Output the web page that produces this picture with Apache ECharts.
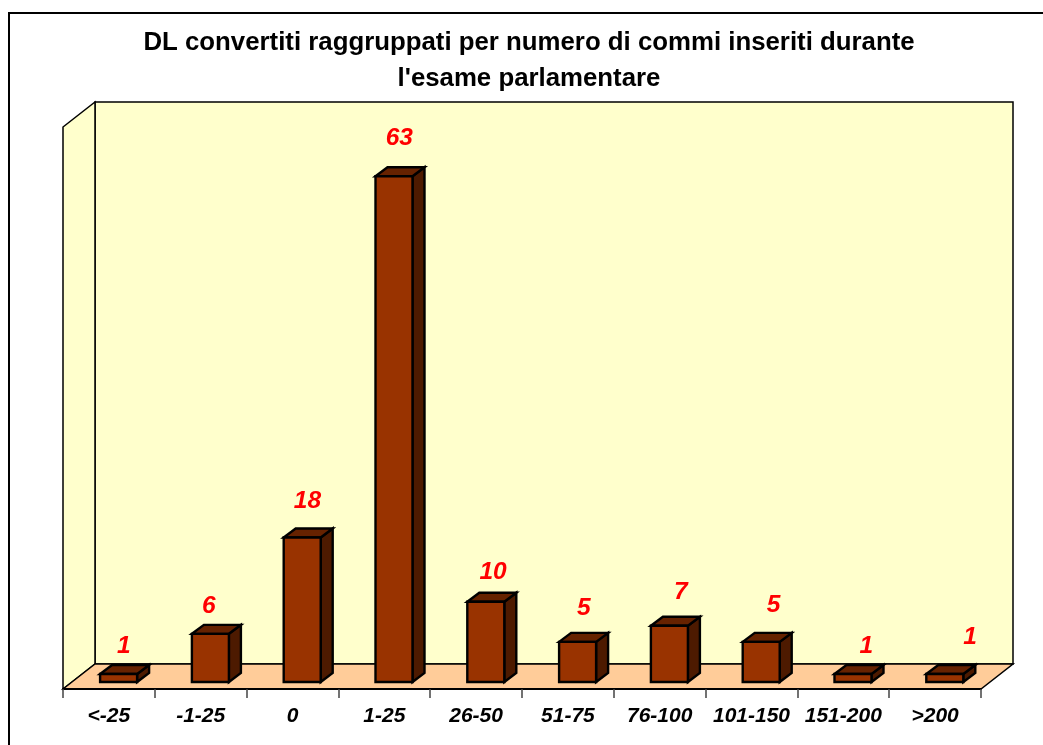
<!DOCTYPE html>
<html><head><meta charset="utf-8">
<style>html,body{margin:0;padding:0;background:#fff}#c{width:1043px;height:745px}</style>
<script src="https://cdn.jsdelivr.net/npm/echarts@6/dist/echarts.min.js"></script>
</head><body><div id="c"></div>
<script>
const categories = ['<-25','-1-25','0','1-25','26-50','51-75','76-100','101-150','151-200','>200'];
const counts = [1,6,18,63,10,5,7,5,1,1];
const labelNudgeX = [6,-1,6,6,8,7,12,13,14,26];
const labelNudgeY = [1,1,-7,-9,0,-5,-5,-8,1,-8];
const titleText = "DL convertiti raggruppati per numero di commi inseriti durante\nl'esame parlamentare";

const WALL_DX = 32, WALL_DY = -25;
const BAR_OFF_X = 9.7, BAR_OFF_Y = -7, BAR_W = 37, BAR_DX = 12, BAR_DY = -9;
const LABEL_FONT = 'italic bold 24.5px "Liberation Sans", Arial, sans-serif';

function poly(points, fill, lw, stroke) {
  return {type:'polygon', shape:{points}, style:{fill, stroke: stroke||'#000', lineWidth: lw, lineJoin:'miter'}};
}
function renderWalls(params, api) {
  const g = params.coordSys;
  const x0=g.x, x1=g.x+g.width, y0=g.y, y1=g.y+g.height;
  return {type:'group', children:[
    poly([[x0+WALL_DX,y0+WALL_DY],[x1+WALL_DX,y0+WALL_DY],[x1+WALL_DX,y1+WALL_DY],[x0+WALL_DX,y1+WALL_DY]],'#FFFFCC',1.5),
    poly([[x0,y0],[x0+WALL_DX,y0+WALL_DY],[x0+WALL_DX,y1+WALL_DY],[x0,y1]],'#FFFFCC',1.5),
    poly([[x0,y1],[x0+WALL_DX,y1+WALL_DY],[x1+WALL_DX,y1+WALL_DY],[x1,y1]],'#FFCC99',1.5)
  ]};
}
function renderBar(params, api) {
  const i = api.value(0), v = api.value(1);
  const top = api.coord([i, v]), base = api.coord([i, 0]);
  const cx = top[0]+BAR_OFF_X;
  const l = cx-BAR_W/2, r = cx+BAR_W/2;
  const t = top[1]+BAR_OFF_Y, b = base[1]+BAR_OFF_Y;
  return {type:'group', children:[
    poly([[r,t],[r+BAR_DX,t+BAR_DY],[r+BAR_DX,b+BAR_DY],[r,b]],'#4D1A00',2.4),
    poly([[l,t],[l+BAR_DX,t+BAR_DY],[r+BAR_DX,t+BAR_DY],[r,t]],'#662200',2.4),
    poly([[l,t],[r,t],[r,b],[l,b]],'#993300',2.4),
    {type:'text', style:{text:String(v), x:top[0]+9+labelNudgeX[i], y:t-29+labelNudgeY[i],
      fill:'#FF0000', font:LABEL_FONT, align:'center', verticalAlign:'middle'}}
  ]};
}
const chart = echarts.init(document.getElementById('c'), null, {renderer:'canvas'});
chart.setOption({
  animation:false,
  backgroundColor:'#fff',
  title:{text:titleText, left:524, top:20, textAlign:'center',
    textStyle:{fontFamily:'"Liberation Sans", Arial, sans-serif', fontWeight:'bold', fontSize:25.8, lineHeight:36, color:'#000'}},
  graphic:[{type:'rect', z:-1, shape:{x:9,y:13,width:1040,height:745}, style:{fill:'#fff',stroke:'#000',lineWidth:2}}],
  grid:{left:63, right:62, top:127, bottom:56},
  xAxis:{type:'category', data:categories, boundaryGap:true,
    axisLine:{show:true, onZero:false, lineStyle:{color:'#000',width:2}},
    axisTick:{show:true, alignWithLabel:false, length:9, lineStyle:{color:'#444',width:1.5}},
    axisLabel:{interval:0, margin:17, color:'#000', fontFamily:'"Liberation Sans", Arial, sans-serif', fontStyle:'italic', fontWeight:'bold', fontSize:21},
    z:5},
  yAxis:{type:'value', min:0, max:70, interval:10, show:false, splitLine:{show:false}},
  series:[
    {type:'custom', coordinateSystem:'cartesian2d', data:[[0,0]], renderItem:renderWalls, silent:true, z:1, clip:false},
    {type:'custom', coordinateSystem:'cartesian2d', encode:{x:0,y:1}, data:counts.map((v,i)=>[i,v]), renderItem:renderBar, z:3, clip:false}
  ]
});
</script></body></html>
